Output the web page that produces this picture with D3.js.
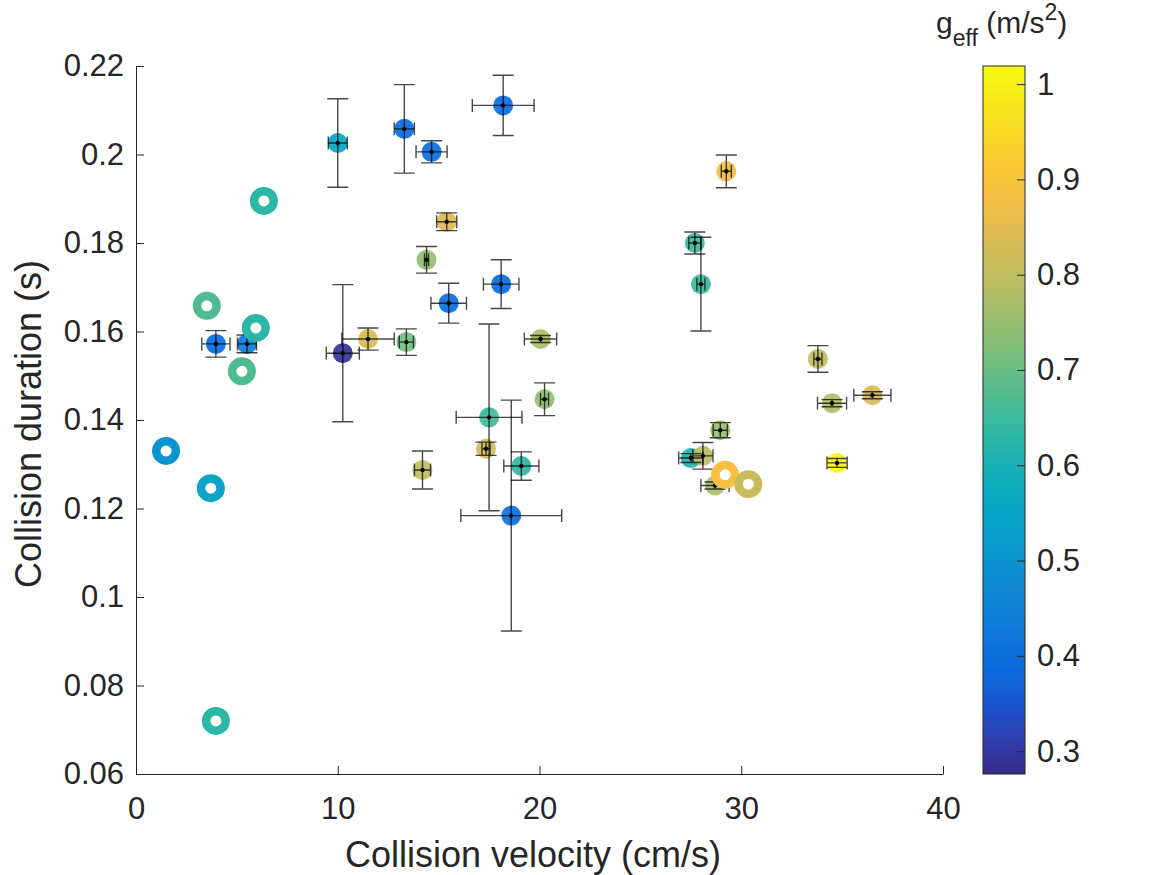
<!DOCTYPE html>
<html>
<head>
<meta charset="utf-8">
<script src="https://cdn.jsdelivr.net/npm/d3@7"></script>
<style>
  body { margin: 0; background: #fff; }
  svg { display: block; font-family: "Liberation Sans", Arial, sans-serif; }
</style>
</head>
<body>
<div id="app"></div>
<script>
// measured points with error bars
const velocity = [10.0, 13.3, 14.65, 18.2, 15.4, 14.4, 15.5, 18.1, 29.26, 27.7, 28.0, 33.8, 3.96, 5.5, 10.25, 11.5, 13.4, 14.2, 20.05, 20.25, 17.5, 17.35, 19.1, 18.6, 27.5, 28.1, 28.96, 28.7, 34.5, 36.5, 34.75]
const velErr = [0.47, 0.5, 0.77, 1.53, 0.5, 0.1, 0.88, 0.88, 0.25, 0.3, 0.2, 0.2, 0.7, 0.47, 0.82, 1.3, 0.35, 0.4, 0.8, 0.2, 1.63, 0.2, 0.87, 2.5, 0.6, 0.5, 0.35, 0.7, 0.72, 0.92, 0.5]
const duration = [0.2026, 0.2058, 0.2006, 0.2111, 0.1848, 0.1762, 0.1664, 0.1707, 0.1962, 0.1800, 0.1707, 0.1538, 0.1572, 0.1572, 0.1551, 0.1583, 0.1576, 0.1287, 0.1583, 0.1447, 0.1406, 0.1335, 0.1296, 0.1184, 0.1314, 0.1319, 0.1377, 0.1252, 0.1438, 0.1456, 0.1303]
const durErr = [0.0100, 0.0100, 0.0025, 0.0068, 0.0020, 0.0030, 0.0045, 0.0055, 0.0037, 0.0025, 0.0106, 0.0030, 0.0030, 0.0020, 0.0155, 0.0025, 0.0030, 0.0043, 0.0008, 0.0037, 0.0211, 0.0015, 0.0032, 0.0261, 0.0010, 0.0030, 0.0017, 0.0008, 0.0008, 0.0008, 0.0010]
const gEff = [0.55, 0.39, 0.40, 0.39, 0.84, 0.745, 0.40, 0.39, 0.88, 0.65, 0.65, 0.80, 0.39, 0.43, 0.29, 0.84, 0.71, 0.80, 0.77, 0.74, 0.65, 0.82, 0.63, 0.40, 0.62, 0.79, 0.75, 0.77, 0.78, 0.83, 1.01]

// points drawn as rings (no error bars)
const ringVelocity = [6.34, 3.51, 5.94, 5.25, 1.49, 3.71, 3.96, 29.2, 30.35]
const ringDuration = [0.1895, 0.1658, 0.1608, 0.1510, 0.1330, 0.1246, 0.0720, 0.1276, 0.1255]
const ringG = [0.63, 0.67, 0.63, 0.67, 0.50, 0.55, 0.63, 0.89, 0.81]

const xTicks = [0, 10, 20, 30, 40]
const yTicks = [0.06, 0.08, 0.1, 0.12, 0.14, 0.16, 0.18, 0.2, 0.22]
const cTicks = [0.3, 0.4, 0.5, 0.6, 0.7, 0.8, 0.9, 1]
const gRange = [0.276, 1.019]

// parula colormap
const parula = ['#352a87', '#3243ba', '#0363e1', '#0d75dc', '#1485d4', '#0998d1', '#06a7c6', '#15b1b4',
  '#38b99e', '#65be86', '#92bf73', '#b7bd64', '#d9ba56', '#f8ba44', '#fcce2e', '#f5e41d', '#f9fb0e']

const width = 1167
const height = 875
const plot = { left: 136, right: 943, top: 66, bottom: 774 }
const cbar = { left: 983, right: 1025 }
const textColor = '#262626'

const pts = velocity.map((v, i) => ({ v, ve: velErr[i], d: duration[i], de: durErr[i], g: gEff[i] }))
const rings = ringVelocity.map((v, i) => ({ v, d: ringDuration[i], g: ringG[i] }))

const svg = d3.select('#app').append('svg')
  .attr('width', width)
  .attr('height', height)

const x = d3.scaleLinear().domain([0, 40]).range([plot.left, plot.right])
const y = d3.scaleLinear().domain([0.06, 0.22]).range([plot.bottom, plot.top])
const colorInterp = d3.interpolateRgbBasis(parula)
const color = g => colorInterp(Math.max(0, Math.min(1, (g - gRange[0]) / (gRange[1] - gRange[0]))))

// axes (ticks point inward, no box)
const xAxis = d3.axisBottom(x).tickValues(xTicks).tickSizeInner(-8).tickSizeOuter(0).tickPadding(23)
  .tickFormat(d3.format('d'))
const yAxis = d3.axisLeft(y).tickValues(yTicks).tickSizeInner(-8).tickSizeOuter(0).tickPadding(12)
  .tickFormat(d => d3.format('.2~f')(d))

const gx = svg.append('g').attr('transform', `translate(0,${plot.bottom})`).call(xAxis)
const gy = svg.append('g').attr('transform', `translate(${plot.left},0)`).call(yAxis)
for (const g of [gx, gy]) {
  g.select('.domain').attr('stroke', textColor).attr('stroke-width', 1)
  g.selectAll('.tick line').attr('stroke', textColor)
  g.selectAll('.tick text').attr('fill', textColor).style('font-size', '31px').attr('font-family', null)
}

svg.append('text')
  .attr('x', 533)
  .attr('y', 867)
  .attr('text-anchor', 'middle')
  .attr('fill', textColor)
  .style('font-size', '36px')
  .text('Collision velocity (cm/s)')

svg.append('text')
  .attr('transform', `translate(41,424) rotate(-90)`)
  .attr('text-anchor', 'middle')
  .attr('fill', textColor)
  .style('font-size', '36px')
  .text('Collision duration (s)')

// filled markers
svg.append('g').selectAll('circle')
  .data(pts)
  .join('circle')
  .attr('cx', d => x(d.v))
  .attr('cy', d => y(d.d))
  .attr('r', 10)
  .attr('fill', d => color(d.g))
  .attr('fill-opacity', 0.92)

// error bars
const eb = svg.append('g')
  .attr('stroke', '#000')
  .attr('stroke-opacity', 0.72)
  .attr('stroke-width', 1.4)
  .attr('fill', 'none')
const capY = 10.5
const capX = 6.5
pts.forEach(d => {
  const cx = x(d.v), cy = y(d.d)
  const y0 = y(d.d - d.de), y1 = y(d.d + d.de)
  const x0 = x(d.v - d.ve), x1 = x(d.v + d.ve)
  const path = d3.path()
  path.moveTo(cx, y0); path.lineTo(cx, y1)
  path.moveTo(cx - capY, y0); path.lineTo(cx + capY, y0)
  path.moveTo(cx - capY, y1); path.lineTo(cx + capY, y1)
  path.moveTo(x0, cy); path.lineTo(x1, cy)
  path.moveTo(x0, cy - capX); path.lineTo(x0, cy + capX)
  path.moveTo(x1, cy - capX); path.lineTo(x1, cy + capX)
  eb.append('path').attr('d', path.toString())
})

svg.append('g').selectAll('circle')
  .data(pts)
  .join('circle')
  .attr('cx', d => x(d.v))
  .attr('cy', d => y(d.d))
  .attr('r', 2.2)
  .attr('fill', '#000')

// ring markers
svg.append('g').selectAll('circle')
  .data(rings)
  .join('circle')
  .attr('cx', d => x(d.v))
  .attr('cy', d => y(d.d))
  .attr('r', 9.75)
  .attr('fill', '#fff')
  .attr('stroke', d => color(d.g))
  .attr('stroke-width', 8.5)

// colorbar
const defs = svg.append('defs')
const grad = defs.append('linearGradient')
  .attr('id', 'cbgrad')
  .attr('x1', 0).attr('x2', 0).attr('y1', 1).attr('y2', 0)
d3.range(0, 1.0001, 0.05).forEach(t => {
  grad.append('stop').attr('offset', t).attr('stop-color', colorInterp(t))
})

const cy = d3.scaleLinear().domain(gRange).range([plot.bottom, plot.top])
svg.append('rect')
  .attr('x', cbar.left)
  .attr('y', plot.top)
  .attr('width', cbar.right - cbar.left)
  .attr('height', plot.bottom - plot.top)
  .attr('fill', 'url(#cbgrad)')
  .attr('stroke', textColor)
  .attr('stroke-width', 1)

const cAxis = d3.axisRight(cy).tickValues(cTicks).tickSizeInner(-8).tickSizeOuter(0).tickPadding(12)
  .tickFormat(d => d3.format('.1~f')(d))
const gc = svg.append('g').attr('transform', `translate(${cbar.right},0)`).call(cAxis)
gc.select('.domain').remove()
gc.selectAll('.tick line').attr('stroke', textColor)
gc.selectAll('.tick text').attr('fill', textColor).style('font-size', '31px').attr('font-family', null)

const title = svg.append('text')
  .attr('x', 936)
  .attr('y', 33)
  .attr('fill', textColor)
  .style('font-size', '30px')
title.append('tspan').text('g')
title.append('tspan').attr('dy', 13).style('font-size', '23px').text('eff')
title.append('tspan').attr('dy', -13).text(' (m/s')
title.append('tspan').attr('dy', -13).style('font-size', '23px').text('2')
title.append('tspan').attr('dy', 13).text(')')
</script>
</body>
</html>
